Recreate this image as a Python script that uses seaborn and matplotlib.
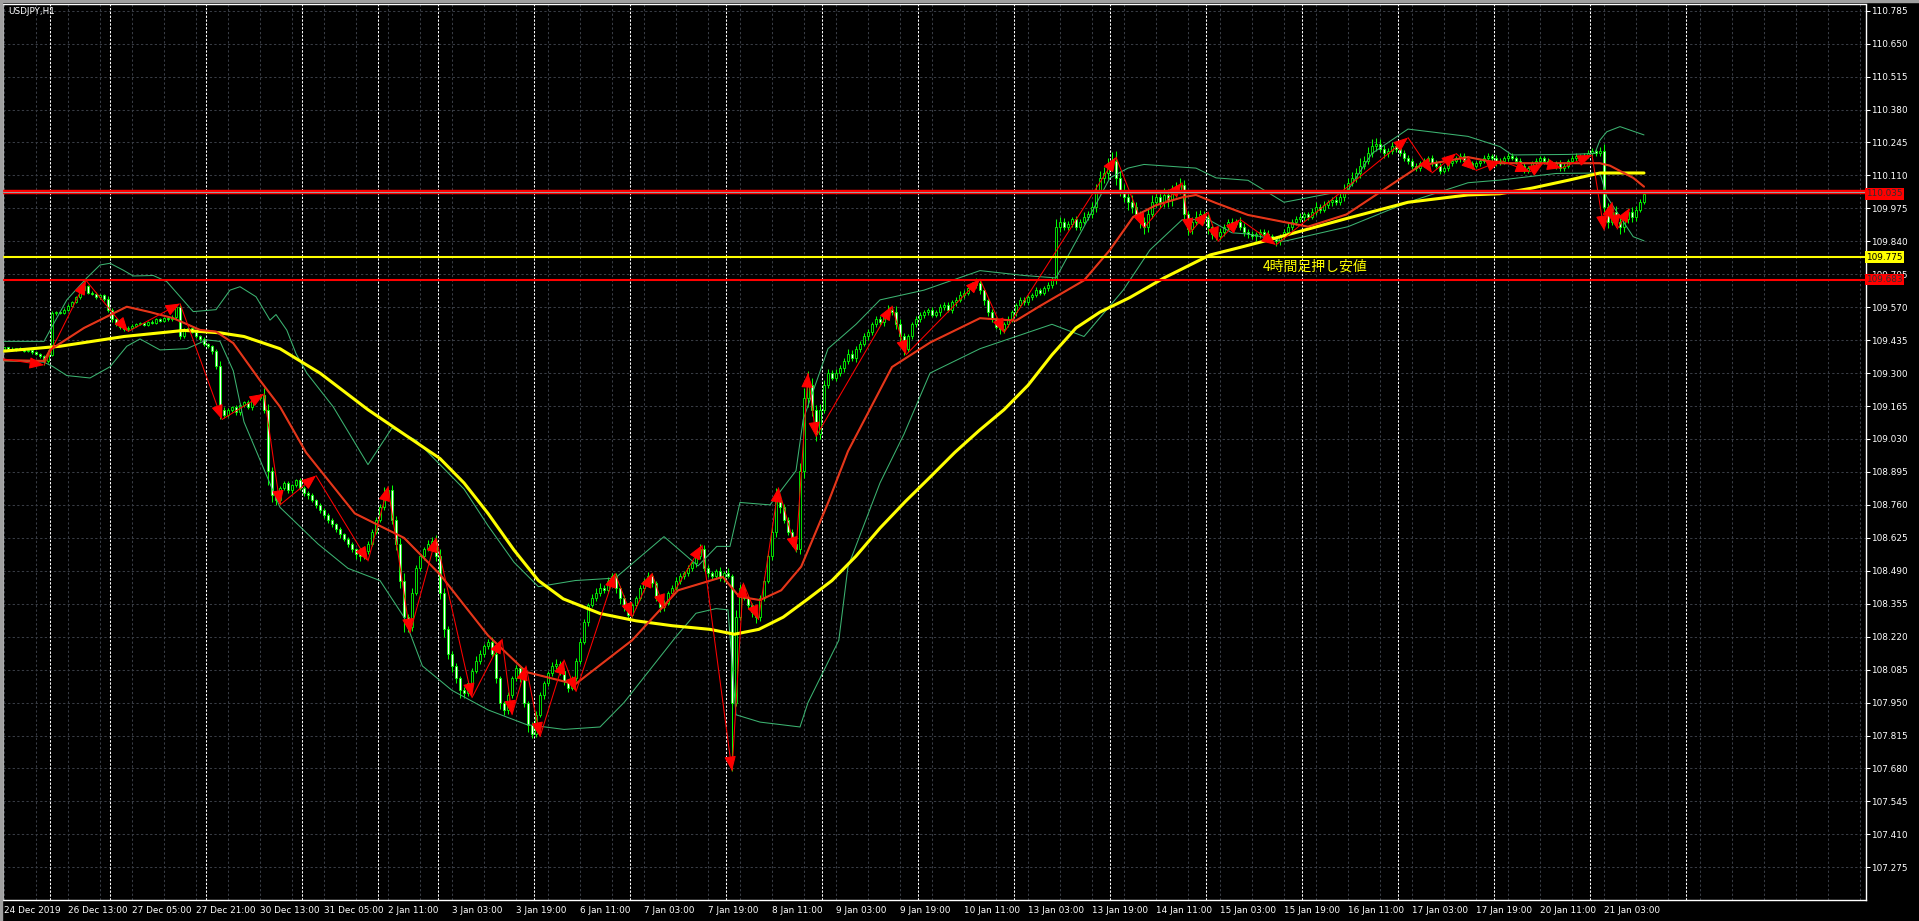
import numpy as np
import pandas as pd
import matplotlib
matplotlib.use("Agg")
import matplotlib.pyplot as plt
from matplotlib import font_manager
import seaborn as sns

# USDJPY H1 closes, one row per 16 bars (one row per time label)
closes = [
    109.405, 109.400, 109.395, 109.402, 109.398, 109.390, 109.395, 109.385, 109.380, 109.370, 109.350, 109.375, 109.545, 109.550, 109.548, 109.560,
    109.575, 109.590, 109.610, 109.640, 109.655, 109.630, 109.625, 109.610, 109.620, 109.605, 109.560, 109.520, 109.500, 109.490, 109.480, 109.485,
    109.495, 109.500, 109.505, 109.498, 109.510, 109.505, 109.520, 109.515, 109.525, 109.520, 109.530, 109.570, 109.450, 109.480, 109.485, 109.470,
    109.450, 109.440, 109.420, 109.410, 109.390, 109.330, 109.150, 109.130, 109.150, 109.160, 109.140, 109.170, 109.180, 109.160, 109.190, 109.200,
    109.210, 109.150, 108.900, 108.800, 108.780, 108.830, 108.850, 108.820, 108.840, 108.860, 108.830, 108.810, 108.800, 108.780, 108.760, 108.740,
    108.720, 108.700, 108.680, 108.660, 108.640, 108.620, 108.600, 108.580, 108.560, 108.550, 108.570, 108.600, 108.650, 108.700, 108.750, 108.800,
    108.820, 108.700, 108.600, 108.450, 108.300, 108.260, 108.400, 108.500, 108.550, 108.580, 108.600, 108.610, 108.550, 108.400, 108.250, 108.150,
    108.100, 108.050, 108.000, 107.990, 108.030, 108.080, 108.120, 108.150, 108.180, 108.200, 108.150, 108.050, 107.950, 107.920, 107.980, 108.050,
    108.090, 108.050, 107.950, 107.860, 107.820, 107.900, 107.980, 108.030, 108.070, 108.100, 108.110, 108.080, 108.040, 108.010, 108.050, 108.120,
    108.200, 108.280, 108.350, 108.380, 108.400, 108.420, 108.410, 108.450, 108.470, 108.420, 108.380, 108.340, 108.310, 108.350, 108.380, 108.420,
    108.450, 108.470, 108.440, 108.380, 108.340, 108.360, 108.400, 108.420, 108.450, 108.470, 108.480, 108.500, 108.520, 108.550, 108.580, 108.500,
    108.480, 108.470, 108.490, 108.460, 108.480, 108.470, 107.950, 108.300, 108.420, 108.380, 108.350, 108.320, 108.300, 108.380, 108.450, 108.550,
    108.650, 108.780, 108.750, 108.700, 108.650, 108.600, 108.580, 108.900, 109.200, 109.250, 109.150, 109.050, 109.150, 109.250, 109.300, 109.280,
    109.300, 109.320, 109.350, 109.380, 109.360, 109.400, 109.420, 109.450, 109.470, 109.500, 109.520, 109.510, 109.540, 109.560, 109.550, 109.500,
    109.450, 109.400, 109.450, 109.500, 109.520, 109.540, 109.550, 109.560, 109.540, 109.550, 109.570, 109.580, 109.560, 109.590, 109.600, 109.620,
    109.630, 109.650, 109.660, 109.670, 109.640, 109.600, 109.550, 109.520, 109.490, 109.480, 109.500, 109.520, 109.550, 109.580, 109.600, 109.590,
    109.610, 109.620, 109.640, 109.630, 109.650, 109.660, 109.680, 109.900, 109.920, 109.900, 109.910, 109.930, 109.900, 109.920, 109.940, 109.950,
    109.980, 110.050, 110.100, 110.120, 110.150, 110.170, 110.100, 110.050, 110.020, 110.000, 109.980, 109.950, 109.920, 109.900, 109.950, 110.000,
    110.020, 110.000, 110.030, 110.010, 110.040, 110.050, 110.070, 109.950, 109.890, 109.920, 109.940, 109.950, 109.940, 109.900, 109.870, 109.860,
    109.880, 109.900, 109.920, 109.910, 109.920, 109.900, 109.880, 109.870, 109.860, 109.870, 109.880, 109.870, 109.860, 109.850, 109.840, 109.860,
    109.880, 109.900, 109.920, 109.930, 109.940, 109.950, 109.940, 109.960, 109.980, 109.970, 109.990, 110.000, 110.010, 110.000, 110.020, 110.050,
    110.080, 110.100, 110.120, 110.150, 110.170, 110.200, 110.230, 110.240, 110.220, 110.200, 110.210, 110.230, 110.220, 110.200, 110.180, 110.170,
    110.150, 110.140, 110.160, 110.170, 110.180, 110.160, 110.150, 110.130, 110.140, 110.160, 110.170, 110.180, 110.190, 110.170, 110.160, 110.150,
    110.160, 110.170, 110.180, 110.190, 110.180, 110.160, 110.170, 110.180, 110.190, 110.180, 110.170, 110.150, 110.130, 110.140, 110.160, 110.170,
    110.180, 110.170, 110.160, 110.150, 110.160, 110.140, 110.150, 110.170, 110.180, 110.190, 110.185, 110.190, 110.200, 110.210, 110.200, 110.210,
    109.980, 109.920, 109.960, 109.920, 109.900, 109.930, 109.960, 109.940, 109.970, 110.000, 110.035,
]
first_open = 109.400

# wick lengths above / below the body, in points (0.001)
upper_pts = [
    4, 3, 5, 2, 6, 3, 4, 2, 5, 3, 6, 20, 8, 5, 4, 6,
    8, 5, 6, 9, 25, 7, 5, 8, 6, 4, 10, 6, 5, 7, 4, 6,
    5, 4, 6, 3, 5, 7, 4, 6, 5, 3, 8, 15, 12, 6, 5, 4,
    6, 5, 8, 4, 7, 9, 20, 10, 8, 6, 9, 7, 5, 8, 6, 10,
    6, 30, 25, 15, 10, 8, 6, 9, 7, 5, 10, 8, 6, 7, 5, 6,
    8, 6, 7, 5, 9, 6, 8, 7, 5, 6, 8, 10, 12, 9, 15, 35,
    10, 20, 15, 25, 30, 12, 20, 15, 10, 8, 15, 20, 25, 30, 20, 15,
    10, 12, 8, 15, 10, 12, 20, 15, 10, 12, 20, 15, 10, 8, 12, 10,
    15, 12, 10, 8, 10, 15, 12, 10, 8, 15, 20, 12, 10, 8, 10, 12,
    15, 12, 10, 15, 20, 18, 12, 15, 10, 12, 8, 10, 12, 10, 8, 10,
    12, 15, 10, 8, 12, 10, 8, 10, 15, 12, 10, 15, 12, 10, 20, 15,
    12, 10, 8, 15, 10, 20, 5, 30, 15, 12, 10, 8, 10, 12, 15, 20,
    30, 50, 20, 15, 12, 10, 8, 30, 40, 60, 30, 20, 25, 20, 15, 12,
    15, 12, 10, 20, 15, 12, 10, 15, 12, 10, 15, 12, 10, 20, 15, 25,
    20, 15, 12, 10, 15, 12, 10, 8, 12, 10, 15, 12, 10, 8, 12, 15,
    12, 10, 15, 20, 12, 10, 8, 12, 10, 8, 10, 12, 10, 8, 10, 12,
    10, 8, 12, 10, 8, 12, 15, 30, 20, 15, 12, 10, 15, 12, 20, 15,
    20, 25, 30, 25, 30, 35, 40, 30, 25, 20, 30, 20, 15, 20, 25, 30,
    25, 20, 30, 25, 30, 35, 30, 20, 15, 20, 25, 20, 15, 10, 12, 15,
    15, 12, 10, 15, 12, 20, 15, 10, 12, 8, 10, 12, 15, 10, 12, 10,
    12, 15, 10, 12, 15, 10, 12, 15, 20, 12, 15, 10, 12, 15, 20, 25,
    20, 25, 20, 30, 20, 25, 30, 25, 20, 15, 12, 15, 12, 10, 15, 12,
    12, 10, 8, 12, 10, 15, 12, 10, 8, 12, 10, 8, 12, 10, 8, 10,
    10, 8, 12, 10, 8, 12, 10, 8, 12, 10, 8, 10, 12, 8, 10, 12,
    10, 8, 12, 10, 8, 12, 10, 8, 12, 10, 8, 10, 15, 12, 10, 15,
    30, 15, 20, 25, 15, 20, 15, 20, 15, 12, 10,
]
lower_pts = [
    3, 5, 4, 6, 3, 5, 4, 6, 5, 8, 17, 10, 6, 5, 4, 5,
    5, 6, 4, 5, 8, 6, 7, 5, 6, 8, 10, 12, 8, 10, 8, 6,
    5, 6, 4, 5, 6, 4, 5, 6, 4, 5, 6, 8, 10, 8, 6, 5,
    6, 8, 10, 8, 12, 15, 40, 12, 10, 8, 12, 10, 8, 9, 10, 8,
    10, 15, 60, 30, 20, 15, 10, 12, 10, 8, 10, 12, 15, 10, 12, 15,
    12, 15, 10, 12, 15, 10, 12, 15, 20, 20, 12, 10, 8, 10, 12, 10,
    15, 20, 25, 30, 60, 20, 15, 10, 12, 15, 10, 12, 20, 25, 30, 20,
    25, 20, 30, 20, 15, 12, 10, 12, 15, 10, 15, 20, 25, 20, 15, 12,
    10, 15, 20, 30, 15, 12, 10, 15, 12, 10, 12, 15, 20, 15, 10, 12,
    10, 12, 15, 10, 12, 15, 10, 12, 15, 20, 25, 15, 12, 10, 12, 10,
    12, 10, 15, 12, 20, 15, 10, 12, 10, 15, 12, 10, 12, 15, 10, 12,
    15, 12, 10, 12, 15, 10, 280, 15, 12, 10, 15, 20, 25, 15, 12, 10,
    15, 20, 25, 15, 12, 10, 15, 20, 30, 40, 25, 30, 20, 15, 12, 10,
    12, 10, 15, 12, 10, 15, 12, 10, 15, 12, 10, 12, 15, 10, 12, 20,
    30, 25, 15, 12, 10, 12, 15, 10, 12, 10, 15, 12, 10, 12, 15, 10,
    12, 10, 12, 10, 15, 20, 15, 12, 10, 20, 15, 10, 12, 15, 10, 12,
    10, 12, 10, 12, 10, 15, 12, 15, 20, 15, 12, 10, 15, 12, 10, 12,
    15, 20, 15, 20, 25, 20, 30, 25, 20, 30, 25, 20, 25, 30, 20, 15,
    20, 25, 20, 30, 25, 20, 15, 30, 25, 20, 15, 20, 25, 30, 20, 15,
    15, 20, 15, 12, 10, 15, 20, 15, 12, 20, 15, 12, 10, 15, 20, 15,
    12, 10, 15, 12, 10, 15, 12, 10, 12, 15, 10, 12, 15, 10, 12, 15,
    15, 12, 15, 20, 15, 12, 15, 20, 15, 20, 15, 12, 15, 12, 10, 15,
    12, 10, 12, 15, 10, 12, 10, 15, 12, 10, 12, 10, 15, 12, 10, 12,
    10, 12, 10, 8, 12, 10, 8, 12, 10, 8, 12, 15, 10, 8, 10, 12,
    10, 12, 8, 10, 15, 10, 12, 10, 8, 10, 12, 10, 8, 10, 12, 10,
    20, 25, 15, 20, 30, 20, 15, 20, 15, 10, 8,
]

# slow moving average (yellow), sampled: bar index, price
slow_bar = [0, 14, 30, 45, 54, 60, 69, 79, 91, 100, 109, 115, 121, 127.5, 133.6, 139.8, 149, 158, 167,
            176.5, 182.6, 188.7, 194.8, 201, 207, 213, 219, 225.4, 231.6, 237.7, 243.8, 250, 256,
            262, 268, 274, 281.5, 290, 301.5, 309, 316, 336, 351, 366, 374, 382, 391, 399, 410]
slow_ma = [109.390, 109.410, 109.450, 109.475, 109.465, 109.450, 109.400, 109.300, 109.150, 109.050,
           108.950, 108.850, 108.725, 108.575, 108.450, 108.375, 108.315, 108.285, 108.265, 108.250,
           108.230, 108.250, 108.300, 108.375, 108.450, 108.550, 108.665, 108.775, 108.875, 108.975,
           109.065, 109.150, 109.250, 109.375, 109.485, 109.550, 109.610, 109.690, 109.784, 109.815,
           109.845, 109.935, 110.000, 110.030, 110.035, 110.058, 110.090, 110.120, 110.120]

# fast moving average (red)
fast_bar = [0, 10, 11.5, 20, 30.7, 36.5, 42.3, 49, 53, 57.3, 64, 69, 75.5, 87.7, 100, 109, 121, 130.6,
            142.8, 157, 168.5, 179.7, 183.8, 189, 194.3, 199.3, 206, 211, 222, 231.5, 244, 253, 259,
            270, 276.5, 282.3, 288, 294.5, 298, 303, 311, 326, 335.6, 344.8, 354, 366, 374, 382, 399,
            401.5, 407.3, 410]
fast_ma = [109.353, 109.350, 109.395, 109.485, 109.572, 109.550, 109.525, 109.477, 109.470, 109.423,
           109.270, 109.162, 108.975, 108.725, 108.625, 108.475, 108.225, 108.075, 108.025, 108.205,
           108.410, 108.465, 108.384, 108.370, 108.410, 108.507, 108.768, 108.980, 109.325, 109.425,
           109.525, 109.515, 109.575, 109.680, 109.805, 109.940, 109.988, 110.020, 110.030, 109.997,
           109.948, 109.900, 109.950, 110.050, 110.150, 110.185, 110.160, 110.160, 110.160, 110.150,
           110.100, 110.064]

# bollinger bands (green)
band_up_bar = [0, 10, 12, 15.7, 20.7, 24, 26.5, 29.8, 32.3, 37.3, 40.7, 47.3, 53, 56.5, 59, 63, 66.5,
               68, 70.7, 73, 75.7, 82.3, 91, 97, 103, 109, 115, 121, 127.5, 133.6, 142.8, 152.8, 165,
               173.5, 178.2, 181.5, 184, 191.5, 198, 199.8, 206, 213, 219, 230, 244, 255, 263, 270,
               276.5, 281, 285, 298, 303, 311, 320, 336, 342, 351, 366, 374, 377, 391, 397.7, 399,
               400.7, 404, 410]
band_up = [109.430, 109.430, 109.490, 109.600, 109.690, 109.743, 109.750, 109.722, 109.698, 109.700,
           109.675, 109.552, 109.560, 109.640, 109.654, 109.613, 109.517, 109.540, 109.476, 109.380,
           109.300, 109.162, 108.925, 109.075, 109.025, 108.925, 108.825, 108.675, 108.525, 108.425,
           108.450, 108.460, 108.630, 108.510, 108.590, 108.590, 108.770, 108.760, 108.900, 109.110,
           109.400, 109.500, 109.600, 109.640, 109.720, 109.700, 109.690, 109.900, 110.100, 110.140,
           110.155, 110.140, 110.100, 110.090, 110.000, 110.050, 110.200, 110.300, 110.270, 110.228,
           110.194, 110.196, 110.200, 110.255, 110.289, 110.310, 110.276]
band_lo_bar = [0, 10, 12.3, 15.7, 21.5, 26.5, 30.7, 34, 39, 45.7, 50.7, 54, 57.3, 60, 69, 78.5, 86,
               94, 100, 104.6, 112, 121, 130.6, 140, 149, 155, 168, 173, 178, 181, 183, 189, 199,
               201, 208.7, 211, 219, 225, 231.5, 244, 253, 262, 270, 279.8, 286.5, 294.5, 301, 307,
               311, 320, 336, 351, 366, 374, 388, 399, 400.7, 404, 407.3, 410]
band_lo = [109.350, 109.345, 109.326, 109.290, 109.280, 109.326, 109.410, 109.440, 109.395, 109.400,
           109.436, 109.430, 109.310, 109.100, 108.750, 108.600, 108.500, 108.450, 108.300, 108.100,
           108.000, 107.920, 107.860, 107.840, 107.850, 107.950, 108.220, 108.316, 108.335, 108.330,
           107.900, 107.870, 107.850, 107.950, 108.205, 108.507, 108.850, 109.050, 109.300, 109.400,
           109.450, 109.500, 109.450, 109.640, 109.805, 109.928, 109.930, 109.875, 109.870, 109.840,
           109.900, 110.000, 110.080, 110.091, 110.118, 110.120, 110.023, 109.941, 109.859, 109.842]

# zigzag turning points
zz_bar = [-1, 10, 20.5, 31, 44, 54.5, 65, 69, 78, 91, 96, 101.5, 108, 117, 124.5, 127, 130.5, 134,
          140, 143, 152.75, 157, 162, 165, 174.5, 182, 184.8, 188.6, 193.6, 198, 201, 203, 222,
          225.5, 244, 250, 278, 285, 294.5, 296.5, 301, 303.5, 309, 318, 351, 357, 363, 368,
          374.25, 381.5, 384.8, 389.4, 397, 400, 402, 403.3, 406.5]
zz_price = [109.360, 109.333, 109.680, 109.470, 109.585, 109.110, 109.215, 108.760, 108.880, 108.530,
            108.835, 108.235, 108.625, 107.970, 108.210, 107.900, 108.100, 107.810, 108.125, 107.995,
            108.480, 108.300, 108.480, 108.335, 108.595, 107.670, 108.440, 108.290, 108.830, 108.570,
            109.300, 109.040, 109.575, 109.375, 109.685, 109.465, 110.185, 109.895, 110.080, 109.875,
            109.960, 109.840, 109.930, 109.825, 110.265, 110.120, 110.200, 110.130, 110.170, 110.125,
            110.160, 110.140, 110.194, 109.886, 110.000, 109.890, 109.977]

time_labels = ['24 Dec 2019', '26 Dec 13:00', '27 Dec 05:00', '27 Dec 21:00', '30 Dec 13:00',
               '31 Dec 05:00', '2 Jan 11:00', '3 Jan 03:00', '3 Jan 19:00', '6 Jan 11:00',
               '7 Jan 03:00', '7 Jan 19:00', '8 Jan 11:00', '9 Jan 03:00', '9 Jan 19:00',
               '10 Jan 11:00', '13 Jan 03:00', '13 Jan 19:00', '14 Jan 11:00', '15 Jan 03:00',
               '15 Jan 19:00', '16 Jan 11:00', '17 Jan 03:00', '17 Jan 19:00', '20 Jan 11:00',
               '21 Jan 03:00']
day_starts = [12, 27, 51, 75, 94, 109, 133, 157, 181, 205, 229, 253, 277, 301, 325, 349, 373, 397, 421]

price_ticks = [110.785, 110.650, 110.515, 110.380, 110.245, 110.110, 109.975, 109.840, 109.705,
               109.570, 109.435, 109.300, 109.165, 109.030, 108.895, 108.760, 108.625, 108.490,
               108.355, 108.220, 108.085, 107.950, 107.815, 107.680, 107.545, 107.410, 107.275]

support_4h = 109.775
line_low = 109.683
line_high = 110.0435
last_price = 110.035
note_text = '4時間足押し安値'

# ---------------------------------------------------------------
sns.set_style('dark', {'axes.facecolor': 'black', 'figure.facecolor': 'black'})
names = {f.name for f in font_manager.fontManager.ttflist}
narrow = 'Liberation Sans Narrow' in names
plt.rcParams['font.family'] = ['Liberation Sans Narrow', 'DejaVu Sans'] if narrow else ['DejaVu Sans']
small = 8.0 if narrow else 6.4

W, H = 1919, 921
fig = plt.figure(figsize=(W / 100, H / 100), dpi=100, facecolor='black')
ax = fig.add_axes([3 / W, 21 / H, 1863 / W, 895.5 / H])
ax.set_facecolor('black')

closes = np.array(closes)
opens = np.r_[first_open, closes[:-1]]
highs = np.maximum(opens, closes) + np.array(upper_pts) / 1000
lows = np.minimum(opens, closes) - np.array(lower_pts) / 1000
bars = np.arange(len(closes))

grid_c = '#383c44'
for p in price_ticks:
    ax.axhline(p, color=grid_c, lw=0.75, ls=(0, (2.2, 2.2)), zorder=0)
for b in range(0, 466, 8):
    ax.axvline(b, color=grid_c, lw=0.75, ls=(0, (2.2, 2.2)), zorder=0)
for b in day_starts:
    ax.axvline(b - 0.5, color='white', lw=0.75, ls=(0, (2.2, 1.5)), zorder=0.5)

# candles
ax.vlines(bars, lows, highs, color='#00ff00', lw=0.75, zorder=2)
up = closes >= opens
ax.bar(bars[up], np.maximum(closes[up] - opens[up], 0.001), bottom=opens[up], width=0.6,
       color='black', edgecolor='#00ff00', lw=0.6, zorder=2.1)
ax.bar(bars[~up], opens[~up] - closes[~up], bottom=closes[~up], width=0.6,
       color='white', edgecolor='#00ff00', lw=0.6, zorder=2.1)

# indicators
sns.lineplot(x=band_up_bar, y=band_up, ax=ax, color='#3cb371', lw=0.75, sort=False, estimator=None, zorder=3)
sns.lineplot(x=band_lo_bar, y=band_lo, ax=ax, color='#3cb371', lw=0.75, sort=False, estimator=None, zorder=3)
sns.lineplot(x=slow_bar, y=slow_ma, ax=ax, color='#ffff00', lw=2.2, sort=False, estimator=None, zorder=3)
sns.lineplot(x=fast_bar, y=fast_ma, ax=ax, color='#ff2a10', lw=1.5, sort=False, estimator=None, zorder=3.1)
sns.lineplot(x=fast_bar, y=fast_ma, ax=ax, color='#c04a28', lw=0.5, sort=False, estimator=None, zorder=3.2)

# zigzag arrows
for i in range(1, len(zz_bar)):
    ax.annotate('', xy=(zz_bar[i], zz_price[i]), xytext=(zz_bar[i - 1], zz_price[i - 1]),
                arrowprops=dict(arrowstyle='-|>,head_length=0.75,head_width=0.3', color='#ff0000',
                                lw=0.75, mutation_scale=12, shrinkA=0, shrinkB=0), zorder=4)

# horizontal objects
ax.axhline(support_4h, color='#ffff00', lw=1.5, zorder=5)
ax.axhline(line_low, color='#ff0000', lw=1.5, zorder=5)
ax.axhline(line_high, color='#ff0000', lw=3.2, zorder=5)
ax.axhline(line_high, color='#9a9a9a', lw=0.75, zorder=5.1)
ax.text(314.8, 109.736, note_text, color='#ffff00', fontsize=10, family=['Noto Sans CJK JP', 'DejaVu Sans'],
        ha='left', va='center', zorder=6)

ax.set_xlim(-0.25, 465.5)
ax.set_ylim(107.141, 110.8104)

ax.yaxis.tick_right()
ax.set_yticks(price_ticks)
ax.set_yticklabels([f'{p:.3f}' for p in price_ticks])
ax.set_xticks(np.arange(len(time_labels)) * 16)
ax.set_xticklabels(time_labels, ha='left')
ax.tick_params(axis='y', colors='white', length=3, width=0.75, pad=1, labelsize=small)
ax.tick_params(axis='x', colors='white', length=3, width=0.75, pad=1, labelsize=small)
ax.set_xlabel('')
ax.set_ylabel('')
for side in ['right', 'bottom', 'top']:
    ax.spines[side].set_color('white')
    ax.spines[side].set_linewidth(1)
ax.spines['left'].set_color('#b0b0b0')
ax.grid(False)

# price labels on the scale
box = dict(boxstyle='square,pad=0.15', lw=0)
ax.text(1.0, last_price, f'{last_price:.3f}', transform=ax.get_yaxis_transform(), color='#303030',
        fontsize=small, ha='left', va='center', bbox=dict(box, fc='#ff0000'), clip_on=False, zorder=10)
ax.text(1.0, support_4h, f'{support_4h:.3f}', transform=ax.get_yaxis_transform(), color='black',
        fontsize=small, ha='left', va='center', bbox=dict(box, fc='#ffff00'), clip_on=False, zorder=10)
ax.text(1.0, line_low, f'{line_low:.3f}', transform=ax.get_yaxis_transform(), color='#303030',
        fontsize=small, ha='left', va='center', bbox=dict(box, fc='#ff0000'), clip_on=False, zorder=10)

fig.text(8 / W, 1 - 12 / H, 'USDJPY,H1', color='white', fontsize=small, ha='left', va='center')

# window frame
fig.patches.append(plt.Rectangle((0, 1 - 2.5 / H), 1, 2.5 / H, transform=fig.transFigure, color='#a0a0a0'))
fig.patches.append(plt.Rectangle((0, 0), 2 / W, 1, transform=fig.transFigure, color='#a0a0a0'))

fig.savefig('out.png', dpi=100, facecolor='black')
